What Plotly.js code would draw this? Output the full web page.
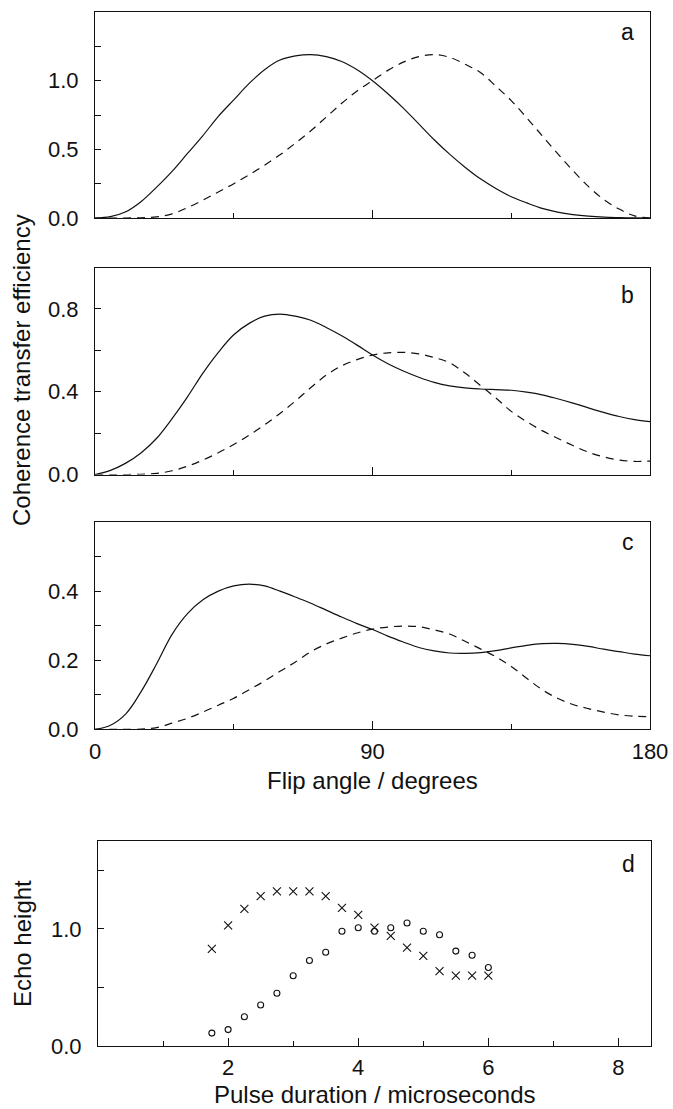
<!DOCTYPE html>
<html>
<head>
<meta charset="utf-8">
<script src="https://cdn.plot.ly/plotly-3.0.1.min.js"></script>
<style>html,body{margin:0;padding:0;background:#fff;}#chart{width:673px;height:1109px;}</style>
</head>
<body>
<div id="chart"></div>
<script>
// Flip angle (degrees)
const angles = [0,5,10,15,20,25,30,35,40,45,50,55,60,65,70,75,80,85,90,95,100,105,110,115,120,125,130,135,140,145,150,155,160,165,170,175,180];
// Panel a
const solidA  = [0,0.01,0.045,0.12,0.225,0.34,0.47,0.60,0.74,0.86,0.98,1.08,1.15,1.18,1.19,1.175,1.14,1.08,1.0,0.905,0.80,0.685,0.57,0.465,0.37,0.285,0.215,0.155,0.11,0.07,0.043,0.025,0.013,0.006,0.003,0.001,0];
const dashedA = [0,0,0,0.002,0.008,0.03,0.075,0.13,0.19,0.25,0.315,0.385,0.46,0.545,0.635,0.735,0.835,0.925,1.0,1.075,1.135,1.175,1.19,1.17,1.12,1.06,0.96,0.855,0.73,0.60,0.47,0.345,0.23,0.135,0.065,0.015,0];
// Panel b
const solidB  = [0,0.02,0.055,0.105,0.175,0.27,0.375,0.49,0.59,0.675,0.73,0.765,0.775,0.765,0.745,0.71,0.67,0.625,0.577,0.535,0.50,0.47,0.445,0.428,0.418,0.413,0.41,0.407,0.398,0.385,0.366,0.345,0.322,0.30,0.28,0.265,0.255];
const dashedB = [0,0,0,0.001,0.005,0.018,0.04,0.07,0.105,0.145,0.19,0.24,0.295,0.355,0.42,0.48,0.525,0.555,0.577,0.588,0.59,0.583,0.565,0.54,0.49,0.43,0.37,0.305,0.255,0.212,0.175,0.14,0.108,0.085,0.07,0.063,0.065];
// Panel c
const solidC  = [0,0.012,0.045,0.11,0.19,0.275,0.335,0.375,0.40,0.415,0.42,0.415,0.40,0.383,0.365,0.345,0.325,0.306,0.289,0.27,0.253,0.237,0.227,0.221,0.22,0.222,0.228,0.236,0.243,0.248,0.249,0.246,0.24,0.232,0.225,0.218,0.213];
const dashedC = [0,0,0,0.001,0.005,0.018,0.032,0.05,0.07,0.09,0.115,0.14,0.168,0.195,0.225,0.247,0.264,0.279,0.29,0.296,0.299,0.297,0.288,0.276,0.255,0.233,0.21,0.182,0.148,0.115,0.09,0.072,0.06,0.05,0.042,0.038,0.037];
// Panel d
const pulse   = [1.75,2.0,2.25,2.5,2.75,3.0,3.25,3.5,3.75,4.0,4.25,4.5,4.75,5.0,5.25,5.5,5.75,6.0];
const crossD  = [0.83,1.03,1.17,1.28,1.32,1.32,1.32,1.28,1.18,1.12,1.01,0.94,0.84,0.77,0.64,0.60,0.60,0.60];
const circleD = [0.11,0.14,0.25,0.35,0.45,0.60,0.73,0.80,0.98,1.01,0.98,1.01,1.05,0.98,0.95,0.81,0.775,0.67];

const W = 673, H = 1109;
const FONT = 'Liberation Sans, Arial, Helvetica, sans-serif';
const INK = '#111';
const px2x = p => p / W;
const py2y = p => 1 - p / H;

const solidLine = {color: INK, width: 1.2, shape: 'spline', smoothing: 1};
const dashLine  = {color: INK, width: 1.2, shape: 'spline', smoothing: 1, dash: '8px,6px'};

const traces = [
  {x: angles, y: solidA,  xaxis: 'x',  yaxis: 'y',  mode: 'lines', line: solidLine},
  {x: angles, y: dashedA, xaxis: 'x',  yaxis: 'y',  mode: 'lines', line: dashLine},
  {x: angles, y: solidB,  xaxis: 'x2', yaxis: 'y2', mode: 'lines', line: solidLine},
  {x: angles, y: dashedB, xaxis: 'x2', yaxis: 'y2', mode: 'lines', line: dashLine},
  {x: angles, y: solidC,  xaxis: 'x3', yaxis: 'y3', mode: 'lines', line: solidLine},
  {x: angles, y: dashedC, xaxis: 'x3', yaxis: 'y3', mode: 'lines', line: dashLine},
  {x: pulse, y: crossD,  xaxis: 'x4', yaxis: 'y4', mode: 'markers',
   marker: {symbol: 'x-thin-open', size: 8, color: INK, line: {color: INK, width: 1.1}}},
  {x: pulse, y: circleD, xaxis: 'x4', yaxis: 'y4', mode: 'markers',
   marker: {symbol: 'circle-open', size: 6, color: INK, line: {color: INK, width: 1.1}}}
];

const tickFont = {family: FONT, size: 22, color: INK};
function xAx(domain, anchor, range, tickvals, minorvals, showLabels) {
  return {
    domain: domain, anchor: anchor, range: range, showgrid: false, zeroline: false,
    showline: true, linecolor: INK, linewidth: 1, mirror: true,
    ticks: 'inside', ticklen: 8, tickwidth: 1, tickcolor: INK,
    tickmode: 'array', tickvals: tickvals, showticklabels: showLabels,
    ticklabelstandoff: 2, tickfont: tickFont,
    minor: {tickmode: 'array', tickvals: minorvals, ticks: 'inside', ticklen: 5, tickwidth: 1, tickcolor: INK, showgrid: false}
  };
}
function yAx(domain, anchor, range, tickvals, minorvals) {
  return {
    domain: domain, anchor: anchor, range: range, showgrid: false, zeroline: false,
    showline: true, linecolor: INK, linewidth: 1, mirror: true,
    ticks: 'inside', ticklen: 6, tickwidth: 1, tickcolor: INK,
    tickmode: 'array', tickvals: tickvals, tickformat: '.1f',
    ticklabelstandoff: 11, tickfont: tickFont,
    minor: {tickmode: 'array', tickvals: minorvals, ticks: 'inside', ticklen: 6, tickwidth: 1, tickcolor: INK, showgrid: false}
  };
}

const xdomABC = [px2x(95), px2x(650)];
const xdomD = [px2x(98), px2x(651)];
const letterFont = {family: FONT, size: 23, color: INK};
const titleFont = {family: FONT, size: 24, color: INK};

const layout = {
  width: W, height: H, margin: {l: 0, r: 0, t: 0, b: 0},
  paper_bgcolor: '#fff', plot_bgcolor: '#fff', showlegend: false,
  font: {family: FONT, color: INK},
  xaxis:  xAx(xdomABC, 'y',  [0, 180], [0, 90, 180], [45, 135], false),
  yaxis:  yAx([py2y(218), py2y(12)], 'x', [0, 1.5], [0, 0.5, 1.0], [0.25, 0.75, 1.25]),
  xaxis2: xAx(xdomABC, 'y2', [0, 180], [0, 90, 180], [45, 135], false),
  yaxis2: yAx([py2y(474.5), py2y(267.5)], 'x2', [0, 1.0], [0, 0.4, 0.8], [0.2, 0.6]),
  xaxis3: xAx(xdomABC, 'y3', [0, 180], [0, 90, 180], [45, 135], true),
  yaxis3: yAx([py2y(729.4), py2y(522)], 'x3', [0, 0.6], [0, 0.2, 0.4], [0.1, 0.3, 0.5]),
  xaxis4: xAx(xdomD, 'y4', [0, 8.5], [2, 4, 6, 8], [1, 3, 5, 7], true),
  yaxis4: yAx([py2y(1046), py2y(841)], 'x4', [0, 1.75], [0, 1.0], [0.5, 1.5]),
  annotations: [
    {text: 'a', xref: 'x domain', yref: 'y domain', x: 0.975, y: 1, xanchor: 'right', yanchor: 'top', yshift: -5, showarrow: false, font: letterFont},
    {text: 'b', xref: 'x2 domain', yref: 'y2 domain', x: 0.975, y: 1, xanchor: 'right', yanchor: 'top', yshift: -12, showarrow: false, font: letterFont},
    {text: 'c', xref: 'x3 domain', yref: 'y3 domain', x: 0.975, y: 1, xanchor: 'right', yanchor: 'top', yshift: -5, showarrow: false, font: letterFont},
    {text: 'd', xref: 'x4 domain', yref: 'y4 domain', x: 0.975, y: 1, xanchor: 'right', yanchor: 'top', yshift: -8, showarrow: false, font: letterFont},
    {text: 'Coherence transfer efficiency', xref: 'paper', yref: 'paper', x: px2x(22), y: py2y(370), xanchor: 'center', yanchor: 'middle', textangle: -90, showarrow: false, font: titleFont},
    {text: 'Echo height', xref: 'paper', yref: 'paper', x: px2x(22), y: py2y(944), xanchor: 'center', yanchor: 'middle', textangle: -90, showarrow: false, font: titleFont},
    {text: 'Flip angle / degrees', xref: 'paper', yref: 'paper', x: px2x(372.5), y: py2y(780), xanchor: 'center', yanchor: 'middle', showarrow: false, font: titleFont},
    {text: 'Pulse duration / microseconds', xref: 'paper', yref: 'paper', x: px2x(374.5), y: py2y(1094), xanchor: 'center', yanchor: 'middle', showarrow: false, font: titleFont}
  ]
};

Plotly.newPlot('chart', traces, layout, {displayModeBar: false, staticPlot: true});
</script>
</body>
</html>
